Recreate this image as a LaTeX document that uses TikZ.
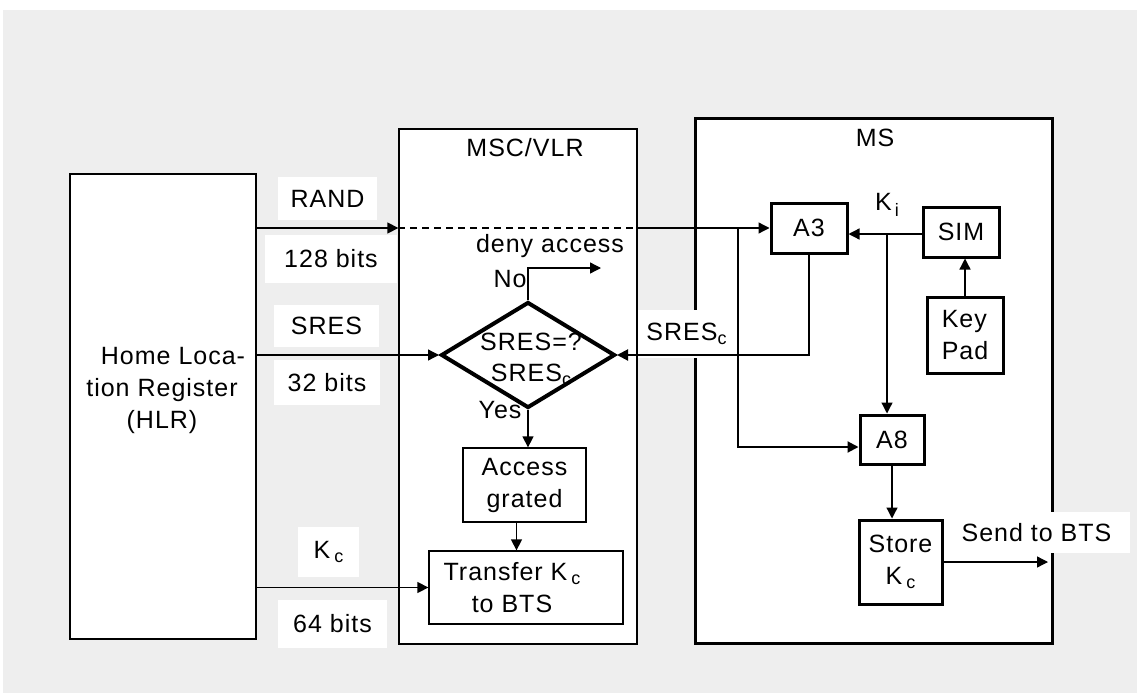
\documentclass[tikz,border=0pt]{standalone}
\usepackage{fontspec}
\setmainfont{Liberation Sans}[LetterSpace=4]
\usetikzlibrary{arrows.meta,shapes.geometric}
\definecolor{bg}{HTML}{EEEEEE}
\newcommand\subc{\raisebox{-4pt}{\fontsize{18}{18}\selectfont c}}
\newcommand\subi{\raisebox{-6pt}{\fontsize{18}{18}\selectfont i}}
\begin{document}
\begin{tikzpicture}[x=1pt,y=-1pt,
  every node/.style={font=\fontsize{25}{32}\selectfont, inner sep=0pt},
  thinbox/.style={draw, line width=1.3pt, fill=white},
  thickbox/.style={draw, line width=3pt, fill=white},
  lab/.style={fill=white},
  conn/.style={line width=1.3pt},
  arr/.style={conn, -{Triangle[length=11pt,width=11pt]}},
]
\useasboundingbox (0,0) rectangle (1137,693);
\fill[bg] (3,10) rectangle (1137,693);

% main boxes
\node[thinbox, minimum width=186pt, minimum height=465pt] (hlr) at (163,406.5) {};
\node[align=center] (hlrtxt) at (162,390) {\hspace{22pt}Home Loca-\\tion Register\\(HLR)};
\node[thinbox, minimum width=238pt, minimum height=515pt] (msc) at (518,386.5) {};
\node (msclab) at (525,148) {MSC/VLR};
\node[thickbox, minimum width=357pt, minimum height=525pt] (ms) at (873.5,380.5) {};
\node (mslab) at (875,138) {MS};

% label boxes
\node[lab, minimum width=99pt, minimum height=43pt] (rand) at (327.5,198.5) {RAND};
\node[lab, minimum width=132pt, minimum height=48pt] (b128) at (331,259) {128 bits};
\node[lab, minimum width=105pt, minimum height=42pt] (sres) at (326.5,326) {SRES};
\node[lab, minimum width=106pt, minimum height=45pt] (b32) at (327,382.5) {32 bits};
\node[lab, minimum width=61pt, minimum height=50pt] (kc) at (328.5,552) {K\kern4pt\subc};
\node[lab, minimum width=109pt, minimum height=48pt] (b64) at (332.5,624) {64 bits};
\node[lab, minimum width=97pt, minimum height=48pt] (sresc) at (686.5,334) {SRES\subc};
\node[lab, minimum width=187pt, minimum height=41pt] (send) at (1036.5,532.5) {Send to BTS};

% MSC/VLR content
\node[draw, diamond, line width=4pt, minimum width=174pt, minimum height=106pt] (dia) at (528,355) {};
\node[align=center, font=\fontsize{25}{31}\selectfont] (diatxt) at (531,359) {SRES=?\\SRES\subc};
\node (deny) at (550,246) {deny access};
\node (no) at (510,279) {No};
\node (yes) at (500,410) {Yes};
\node[thinbox, minimum width=123pt, minimum height=74pt, align=center] (access) at (524.5,485) {Access\\grated};
\node[thinbox, minimum width=194pt, minimum height=73pt] (transfer) at (526,587.5) {};
\node[align=center] (transtxt) at (512,588) {Transfer K\kern4pt\subc\\to BTS};

% MS content
\node[thickbox, minimum width=76pt, minimum height=50pt] (a3) at (809,228) {A3};
\node[thickbox, minimum width=76pt, minimum height=50pt] (sim) at (961,232) {SIM};
\node[thickbox, minimum width=76pt, minimum height=76pt, align=left] (keypad) at (965,335) {Key\\Pad};
\node[thickbox, minimum width=64pt, minimum height=49pt] (a8) at (892,439.5) {A8};
\node[thickbox, minimum width=83pt, minimum height=84pt, align=center] (store) at (900.5,562) {Store\\K\kern4pt\subc};
\node (ki) at (887,205) {K\kern3pt\subi};

% junctions / free ends
\coordinate (j1) at (738,228);
\coordinate (j2) at (887,234);
\coordinate (denyend) at (601,268);
\coordinate (btsend) at (1048,562);

% connectors
\draw[arr] (hlr.east |- a3.west) -- (msc.west |- a3.west);
\draw[conn, dash pattern=on 7pt off 5pt] (msc.west |- a3.west) -- (msc.east |- a3.west);
\draw[arr] (msc.east |- a3.west) -- (a3.west);
\draw[arr, line width=2pt] (j1) |- ([yshift=-7.5pt]a8.west);
\draw[arr] (sim.west |- j2) -- (a3.east |- j2);
\draw[arr] (j2) -- (j2 |- a8.north);
\draw[arr] (keypad.north) -- (keypad.north |- sim.south);
\draw[arr, line width=2pt] (a3.south) |- (dia.east);
\draw[arr] (hlr.east |- dia.west) -- (dia.west);
\draw[arr] (dia.north) |- (denyend);
\draw[arr] (dia.south) -- (dia.south |- access.north);
\draw[arr] ([xshift=-8pt]access.south) -- ([xshift=-8pt]access.south |- transfer.north);
\draw[arr] (hlr.east |- transfer.west) -- (transfer.west);
\draw[arr] (a8.south) -- (a8.south |- store.north);
\draw[arr] (store.east) -- (btsend);
\end{tikzpicture}
\end{document}
